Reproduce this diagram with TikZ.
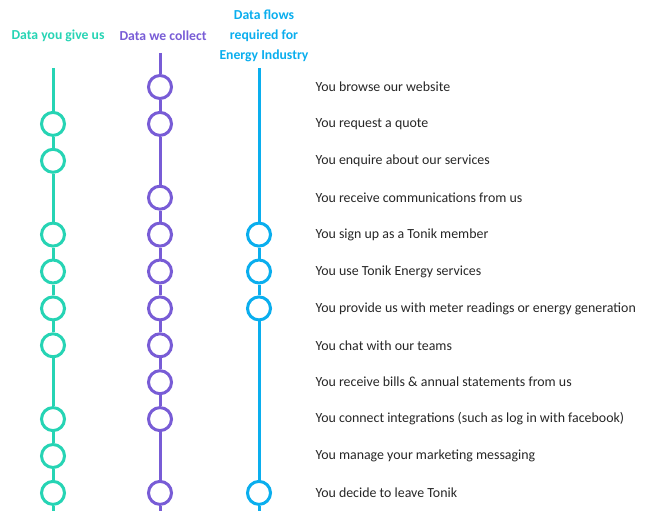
\documentclass[tikz,border=0pt]{standalone}
\usepackage{fontspec}
\setmainfont{Carlito}
\definecolor{tealc}{RGB}{38,212,180}
\definecolor{purplec}{RGB}{120,92,214}
\definecolor{bluec}{RGB}{10,174,238}
\begin{document}
\begin{tikzpicture}[x=1pt,y=-1pt,
  dot/.style={circle,draw=#1,line width=3pt,fill=white,minimum size=23pt,inner sep=0pt},
  track/.style={draw=#1,line width=3pt},
  head/.style={text=#1,font=\bfseries\fontsize{13.7}{19.7}\selectfont,align=center},
  lbl/.style={anchor=west,font=\fontsize{13.9}{16}\selectfont,text=black!85}]
\useasboundingbox (0,0) rectangle (645,511);
% headers
\node[head=tealc] (h1) at (58,36) {Data you give us};
\node[head=purplec] (h2) at (163,36) {Data we collect};
\node[head=bluec] (h3) at (264,36) {Data flows\\required for\\Energy Industry};
% row positions
\foreach \i in {1,...,12} {\coordinate (r\i) at (312,{87+36.9*(\i-1)});}
% labels
\node[lbl] (l1) at (r1) {You browse our website};
\node[lbl] (l2) at (r2) {You request a quote};
\node[lbl] (l3) at (r3) {You enquire about our services};
\node[lbl] (l4) at (r4) {You receive communications from us};
\node[lbl] (l5) at (r5) {You sign up as a Tonik member};
\node[lbl] (l6) at (r6) {You use Tonik Energy services};
\node[lbl] (l7) at (r7) {You provide us with meter readings or energy generation};
\node[lbl] (l8) at (r8) {You chat with our teams};
\node[lbl] (l9) at (r9) {You receive bills \& annual statements from us};
\node[lbl] (l10) at (r10) {You connect integrations (such as log in with facebook)};
\node[lbl] (l11) at (r11) {You manage your marketing messaging};
\node[lbl] (l12) at (r12) {You decide to leave Tonik};
% teal column
\coordinate (tTop) at (53,68);
\coordinate (tBot) at (53,512);
\foreach \i in {2,3,5,6,7,8,10,11,12} {\node[dot=tealc] (t\i) at (53,{87+36.9*(\i-1)}) {};}
\draw[track=tealc] (tTop) -- (t2) -- (t3) -- (t5) -- (t6) -- (t7) -- (t8) -- (t10) -- (t11) -- (t12) -- (tBot);
% purple column
\coordinate (pTop) at (160,53);
\coordinate (pBot) at (160,512);
\foreach \i in {1,2,4,5,6,7,8,9,10,12} {\node[dot=purplec] (p\i) at (160,{87+36.9*(\i-1)}) {};}
\draw[track=purplec] (pTop) -- (p1) -- (p2) -- (p4) -- (p5) -- (p6) -- (p7) -- (p8) -- (p9) -- (p10) -- (p12) -- (pBot);
% blue column
\coordinate (bTop) at (259,68);
\coordinate (bBot) at (259,512);
\foreach \i in {5,6,7,12} {\node[dot=bluec] (b\i) at (259,{87+36.9*(\i-1)}) {};}
\draw[track=bluec] (bTop) -- (b5) -- (b6) -- (b7) -- (b12) -- (bBot);
\end{tikzpicture}
\end{document}
